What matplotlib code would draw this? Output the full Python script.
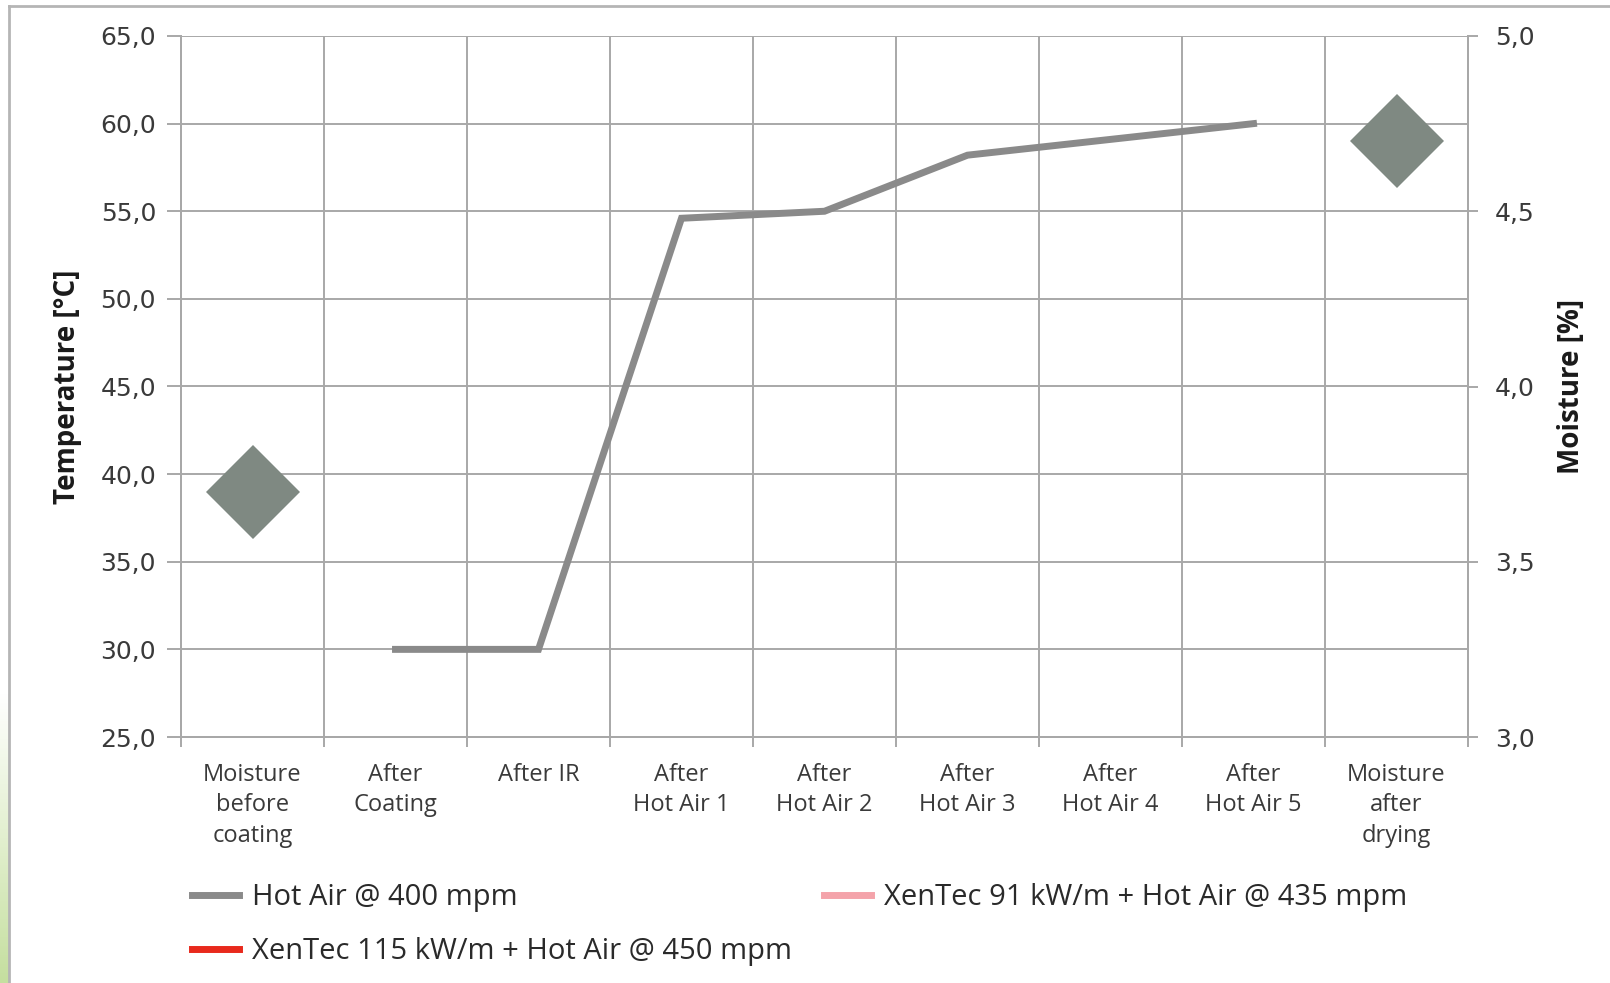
import matplotlib
matplotlib.use("Agg")
import matplotlib.pyplot as plt
import numpy as np
from matplotlib.ticker import FixedLocator, FuncFormatter
from matplotlib.colors import LinearSegmentedColormap

plt.rcParams['font.family'] = ['Open Sans', 'DejaVu Sans']

categories = ["Moisture\nbefore\ncoating", "After\nCoating", "After IR", "After\nHot Air 1",
              "After\nHot Air 2", "After\nHot Air 3", "After\nHot Air 4", "After\nHot Air 5",
              "Moisture\nafter\ndrying"]
temp_hot_air_400 = [None, 30.0, 30.0, 54.6, 55.0, 58.2, 59.1, 60.0, None]
moisture_categories = [0, 8]
moisture_hot_air_400 = [3.70, 4.70]
series_names = ["Hot Air @ 400 mpm", "XenTec 91 kW/m + Hot Air @ 435 mpm",
                "XenTec 115 kW/m + Hot Air @ 450 mpm"]
series_colors = ["#8a8a8a", "#f4a3aa", "#e8291c"]
temp_ticks = [25, 30, 35, 40, 45, 50, 55, 60, 65]
moist_ticks = [3.0, 3.5, 4.0, 4.5, 5.0]

W, H = 1610, 983
fig = plt.figure(figsize=(W / 100, H / 100), dpi=100)
fig.patch.set_facecolor("white")

# outer frame and green edge strip
fig.add_artist(plt.Line2D([9 / W, 1], [1 - 6 / H, 1 - 6 / H], transform=fig.transFigure,
                          color="#b5b5b5", lw=2))
fig.add_artist(plt.Line2D([9 / W, 9 / W], [0, 1 - 6 / H], transform=fig.transFigure,
                          color="#b5b5b5", lw=2))
grad = np.linspace(0, 1, 200).reshape(-1, 1)
gax = fig.add_axes([0, 0, 8 / W, 290 / H])
cm = LinearSegmentedColormap.from_list("g", ["#ffffff", "#c5df9f"])
gax.imshow(grad, aspect="auto", cmap=cm, origin="upper")
gax.axis("off")

left, right, top, bottom = 181, 1468, 36, 737
ax = fig.add_axes([left / W, 1 - bottom / H, (right - left) / W, (bottom - top) / H])
ax2 = ax.twinx()

x = np.arange(len(categories))
grid_c = "#a8a8a8"
tick_c = "#3a3a3a"
num_font = ["DejaVu Sans"]

ax.set_xlim(-0.5, len(categories) - 0.5)
ax.set_ylim(25, 65)
ax2.set_ylim(3.0, 5.0)

# vertical gridlines at category boundaries
ax.xaxis.set_major_locator(FixedLocator(x))
ax.set_xticklabels(categories, fontsize=17, color=tick_c, linespacing=1.37)
ax.xaxis.set_minor_locator(FixedLocator(np.arange(-0.5, len(categories), 1.0)))
ax.tick_params(axis="x", which="major", length=0, pad=18.5)
ax.tick_params(axis="x", which="minor", length=7, color=grid_c, width=1.4)
ax.grid(True, which="minor", axis="x", color=grid_c, lw=1.4)
ax.grid(True, which="major", axis="y", color=grid_c, lw=1.4)

fmt = FuncFormatter(lambda v, p: f"{v:.1f}".replace(".", ","))
ax.yaxis.set_major_locator(FixedLocator(temp_ticks))
ax.yaxis.set_major_formatter(fmt)
ax.tick_params(axis="y", length=10, color=grid_c, width=1.4, labelsize=18, labelcolor=tick_c, pad=8)

ax2.yaxis.set_major_locator(FixedLocator(moist_ticks))
ax2.yaxis.set_major_formatter(fmt)
ax2.tick_params(axis="y", length=7, color=grid_c, width=1.4, labelsize=18, labelcolor=tick_c, pad=12.5)
for t in ax.get_yticklabels() + ax2.get_yticklabels():
    t.set_family(num_font)

for a in (ax, ax2):
    for s in a.spines.values():
        s.set_color(grid_c)
        s.set_linewidth(1.4)
ax.spines["top"].set_visible(False)
ax2.spines["top"].set_visible(False)

ax.set_ylabel("Temperature [°C]", fontsize=20, fontweight="bold", color="#1a1a1a", labelpad=13)
ax2.set_ylabel("Moisture [%]", fontsize=20, fontweight="bold", color="#1a1a1a",
               rotation=90, labelpad=16)

ty = np.array([np.nan if v is None else v for v in temp_hot_air_400], dtype=float)
l1, = ax.plot(x, ty, color=series_colors[0], lw=5, solid_joinstyle="miter",
              label=series_names[0], zorder=3)
l2, = ax.plot([], [], color=series_colors[1], lw=5, label=series_names[1])
l3, = ax.plot([], [], color=series_colors[2], lw=5, label=series_names[2])

ax2.plot(moisture_categories, moisture_hot_air_400, linestyle="none", marker="D",
         markersize=48, color="#7f8982", markeredgewidth=0, zorder=4)

leg = fig.legend(handles=[l1, l3, l2], labels=[series_names[0], series_names[2], series_names[1]],
                 ncol=2, loc="upper left", bbox_to_anchor=(192 / W, 1 - 883 / H),
                 frameon=False, fontsize=21, handlelength=1.62, handletextpad=0.45,
                 columnspacing=1.07, labelspacing=0.86, borderaxespad=0, borderpad=0)
for t in leg.get_texts():
    t.set_color("#2a2a2a")

fig.savefig("out.png", dpi=100)
